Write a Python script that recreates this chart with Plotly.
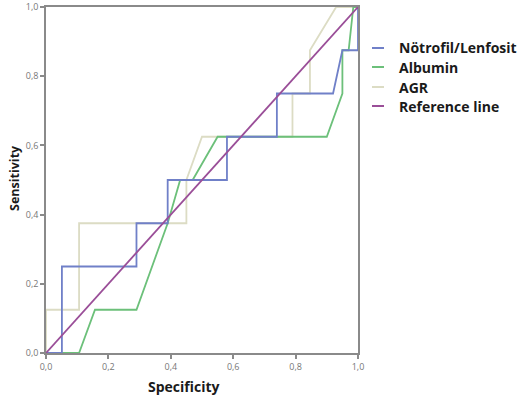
import plotly.graph_objects as go

# Data
nl_x = [0, 0.051, 0.051, 0.29, 0.29, 0.39, 0.39, 0.58, 0.58, 0.74, 0.74, 0.92, 0.95, 1.0, 1.0]
nl_y = [0, 0, 0.25, 0.25, 0.375, 0.375, 0.5, 0.5, 0.625, 0.625, 0.75, 0.75, 0.875, 0.875, 1.0]

alb_x = [0, 0.106, 0.157, 0.29, 0.39, 0.43, 0.47, 0.55, 0.90, 0.95, 0.95, 0.97, 0.985, 1.0]
alb_y = [0, 0, 0.125, 0.125, 0.375, 0.5, 0.5, 0.625, 0.625, 0.75, 0.875, 0.875, 1.0, 1.0]

agr_x = [0, 0, 0.106, 0.106, 0.45, 0.45, 0.5, 0.79, 0.79, 0.846, 0.846, 0.93, 1.0]
agr_y = [0, 0.125, 0.125, 0.375, 0.375, 0.5, 0.625, 0.625, 0.75, 0.75, 0.875, 1.0, 1.0]

ref_x = [0, 1]
ref_y = [0, 1]

names = ["Nötrofil/Lenfosit", "Albumin", "AGR", "Reference line"]
colors = ["#7080c8", "#6cc07a", "#dcdcc4", "#9a4e98"]
ticks = [0, 0.2, 0.4, 0.6, 0.8, 1.0]

W, H = 521, 401
L, R = 46, 521 - 358
T, B = 7, 401 - 353
PW = W - L - R
PH = H - T - B

def px_to_paper_x(px):
    return (px - L) / PW

def py_to_paper_y(py):
    return (H - B - py) / PH

fig = go.Figure()
for xs, ys, nm, c in zip([agr_x, alb_x, nl_x, ref_x], [agr_y, alb_y, nl_y, ref_y],
                         [names[2], names[1], names[0], names[3]],
                         [colors[2], colors[1], colors[0], colors[3]]):
    fig.add_trace(go.Scatter(x=xs, y=ys, mode="lines", name=nm,
                             line=dict(color=c, width=1.8), showlegend=False,
                             hoverinfo="skip", cliponaxis=False))

axis_common = dict(range=[0, 1], tickvals=ticks, tickformat=".1f",
                   showgrid=False, zeroline=False, showline=True, mirror=True,
                   linecolor="#8a8a8a", linewidth=1.5, ticks="outside",
                   ticklen=4, tickcolor="#8a8a8a", tickwidth=1.5,
                   automargin=False,
                   tickfont=dict(family="Open Sans", size=9, color="#777777"))

fig.update_layout(
    width=W, height=H,
    margin=dict(l=L, r=R, t=T, b=B, autoexpand=False),
    paper_bgcolor="white", plot_bgcolor="white",
    separators=",.",
    xaxis=axis_common,
    yaxis=axis_common,
    showlegend=False,
)

# Manual legend (short line samples + bold text)
leg_y_px = [48, 67, 87, 106]
for nm, c, py in zip(names, colors, leg_y_px):
    fig.add_shape(type="line", xref="paper", yref="paper",
                  x0=px_to_paper_x(372), x1=px_to_paper_x(384),
                  y0=py_to_paper_y(py), y1=py_to_paper_y(py),
                  line=dict(color=c, width=2))
    fig.add_annotation(text="<b>%s</b>" % nm, xref="paper", yref="paper",
                       x=px_to_paper_x(397), y=py_to_paper_y(py),
                       xanchor="left", yanchor="middle", showarrow=False,
                       font=dict(family="Open Sans", size=14, color="#1a1a1a"))

fig.add_annotation(text="<b>Specificity</b>", xref="paper", yref="paper",
                   x=px_to_paper_x(184), y=py_to_paper_y(386),
                   xanchor="center", yanchor="middle", showarrow=False,
                   font=dict(family="Open Sans", size=14, color="#1a1a1a"))
fig.add_annotation(text="<b>Sensitivity</b>", xref="paper", yref="paper",
                   x=px_to_paper_x(15), y=py_to_paper_y(178),
                   xanchor="center", yanchor="middle", showarrow=False,
                   textangle=-90,
                   font=dict(family="Open Sans", size=12.5, color="#1a1a1a"))

fig.write_html("out.html",
               config={"displayModeBar": False},
               post_script="document.body.style.margin='0';"
                           "document.body.style.overflow='hidden';")
